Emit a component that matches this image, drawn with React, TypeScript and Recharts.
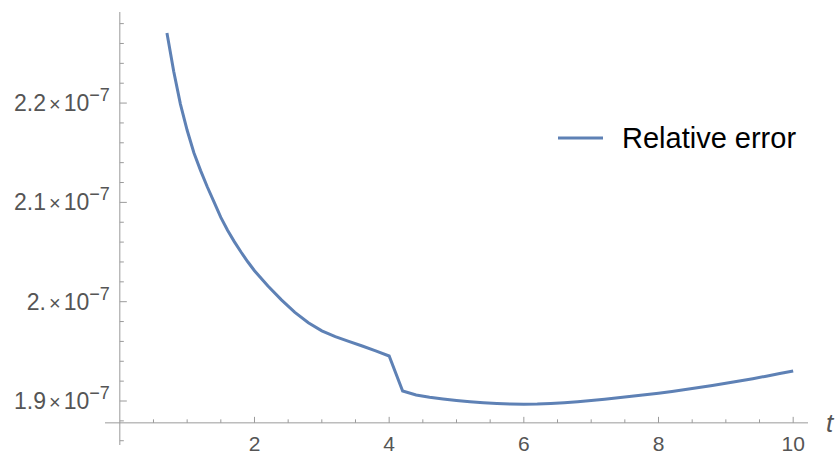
import React from 'react';
import { LineChart, Line, XAxis, YAxis, ReferenceLine, Legend } from 'recharts';

// t values and relative error
const tValues = [
  0.7, 0.8, 0.9, 1.0, 1.1, 1.2, 1.3, 1.4, 1.5, 1.6, 1.7, 1.8, 1.9, 2.0, 2.2, 2.4, 2.6, 2.8, 3.0, 3.2, 3.4, 3.6,
  3.8, 4.0, 4.2, 4.4, 4.6, 4.8, 5.0, 5.2, 5.4, 5.6, 5.8, 6.0, 6.2, 6.4, 6.6, 6.8, 7.0, 7.2, 7.4, 7.6, 7.8, 8.0,
  8.2, 8.4, 8.6, 8.8, 9.0, 9.2, 9.4, 9.6, 9.8, 10.0,
];
const relError = [
  2.2706e-7, 2.232e-7, 2.199e-7, 2.1726e-7, 2.15e-7, 2.132e-7, 2.1155e-7, 2.1002e-7, 2.0849e-7, 2.072e-7,
  2.0605e-7, 2.05e-7, 2.0402e-7, 2.0312e-7, 2.0158e-7, 2.0018e-7, 1.9893e-7, 1.9788e-7, 1.9706e-7, 1.9648e-7,
  1.96e-7, 1.9554e-7, 1.9505e-7, 1.9453e-7, 1.9101e-7, 1.906e-7, 1.9038e-7, 1.902e-7, 1.9005e-7, 1.8992e-7,
  1.8982e-7, 1.8975e-7, 1.897e-7, 1.8967e-7, 1.8969e-7, 1.8975e-7, 1.8983e-7, 1.8993e-7, 1.9004e-7, 1.9018e-7,
  1.9033e-7, 1.9048e-7, 1.9063e-7, 1.9078e-7, 1.9096e-7, 1.9115e-7, 1.9135e-7, 1.9156e-7, 1.9178e-7, 1.9201e-7,
  1.9225e-7, 1.925e-7, 1.9276e-7, 1.9302e-7,
];

const xMajorTicks = [2, 4, 6, 8, 10];
const xMinorTicks = [0.5, 1, 1.5, 2.5, 3, 3.5, 4.5, 5, 5.5, 6.5, 7, 7.5, 8.5, 9, 9.5];
const yMajorTicks = [1.9e-7, 2.0e-7, 2.1e-7, 2.2e-7];
const yMajorLabels = ['1.9', '2.', '2.1', '2.2'];
const yMinorTicks = [
  1.86e-7, 1.88e-7, 1.92e-7, 1.94e-7, 1.96e-7, 1.98e-7, 2.02e-7, 2.04e-7, 2.06e-7, 2.08e-7, 2.12e-7, 2.14e-7,
  2.16e-7, 2.18e-7, 2.22e-7, 2.24e-7, 2.26e-7, 2.28e-7,
];

const X_DOMAIN: [number, number] = [-0.22, 10.22];
const Y_DOMAIN: [number, number] = [1.8557e-7, 2.2917e-7];
const X_ORIGIN = 0;
const Y_ORIGIN = 1.878e-7;

const W = 837;
const H = 455;
const AXIS_W = 1;
const MARGIN = { top: 12, right: 29, bottom: 10 - AXIS_W, left: 105 - AXIS_W };
const PLOT_W = W - 105 - MARGIN.right;
const PLOT_H = H - MARGIN.top - 10;

const LINE_COLOR = '#5E81B5';
const AXIS_COLOR = '#9a9a9a';
const LABEL_COLOR = '#555555';
const FONT = '"Liberation Sans", Arial, sans-serif';

const data = tValues.map((t, i) => ({ t, err: relError[i] }));

// where the axes cross, measured from the plot's bottom / left edges
const originDy = ((Y_ORIGIN - Y_DOMAIN[0]) / (Y_DOMAIN[1] - Y_DOMAIN[0])) * PLOT_H;
const originDx = ((X_ORIGIN - X_DOMAIN[0]) / (X_DOMAIN[1] - X_DOMAIN[0])) * PLOT_W;

const XTick = (props: any) => {
  const { x, y, payload } = props;
  const ay = y - originDy;
  const major = xMajorTicks.includes(payload.value);
  return (
    <g>
      <line x1={x} x2={x} y1={ay} y2={ay - (major ? 6 : 3.5)} stroke={AXIS_COLOR} strokeWidth={1} />
      {major && (
        <text x={x} y={ay + 28} textAnchor="middle" fill={LABEL_COLOR} fontSize={21} fontFamily={FONT}>
          {payload.value}
        </text>
      )}
    </g>
  );
};

const YTick = (props: any) => {
  const { x, y, payload } = props;
  const ax = x + originDx;
  const idx = yMajorTicks.findIndex((v) => Math.abs(v - payload.value) < 1e-12);
  const major = idx >= 0;
  return (
    <g>
      <line x1={ax} x2={ax + (major ? 7 : 4)} y1={y} y2={y} stroke={AXIS_COLOR} strokeWidth={1} />
      {major && (
        <text x={ax - 10} y={y + 8} textAnchor="end" fill={LABEL_COLOR} fontSize={23} fontFamily={FONT}>
          <tspan>{yMajorLabels[idx]}</tspan>
          <tspan fontSize={20} dx={3}>×</tspan>
          <tspan dx={3}>10</tspan>
          <tspan fontSize={18} dy={-10}>−7</tspan>
        </text>
      )}
    </g>
  );
};

const LegendBox = () => (
  <svg width={270} height={44}>
    <line x1={8} x2={53} y1={23} y2={23} stroke={LINE_COLOR} strokeWidth={3} />
    <text x={72} y={33} fill="#000" fontSize={29} fontFamily={FONT}>
      Relative error
    </text>
  </svg>
);

export default function App() {
  return (
    <div style={{ position: 'absolute', left: 0, top: 0, width: W, height: H, background: '#fff' }}>
      <LineChart width={W} height={H} data={data} margin={MARGIN}>
        <XAxis
          dataKey="t"
          type="number"
          domain={X_DOMAIN}
          allowDataOverflow
          ticks={[...xMinorTicks, ...xMajorTicks]}
          height={AXIS_W}
          axisLine={false}
          tickLine={false}
          tickSize={0}
          tickMargin={0}
          tick={(p: any) => <XTick {...p} />}
          interval={0}
        />
        <YAxis
          type="number"
          domain={Y_DOMAIN}
          allowDataOverflow
          ticks={[...yMinorTicks, ...yMajorTicks]}
          width={AXIS_W}
          axisLine={false}
          tickLine={false}
          tickSize={0}
          tickMargin={0}
          tick={(p: any) => <YTick {...p} />}
          interval={0}
        />
        <ReferenceLine x={X_ORIGIN} stroke={AXIS_COLOR} strokeWidth={1} />
        <ReferenceLine
          y={Y_ORIGIN}
          stroke={AXIS_COLOR}
          strokeWidth={1}
          label={{ value: 't', position: 'right', offset: 18, fill: LABEL_COLOR, fontSize: 26, fontStyle: 'italic', fontFamily: FONT }}
        />
        <Legend
          layout="horizontal"
          verticalAlign="middle"
          content={() => <LegendBox />}
          wrapperStyle={{ left: 550, top: 115, width: 270 }}
        />
        <Line
          dataKey="err"
          type="linear"
          stroke={LINE_COLOR}
          strokeWidth={3}
          dot={false}
          isAnimationActive={false}
        />
      </LineChart>
    </div>
  );
}
